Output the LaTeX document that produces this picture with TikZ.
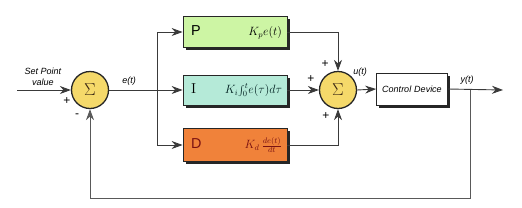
\documentclass[tikz,border=0pt]{standalone}
\usepackage{fontspec}
\setsansfont{Liberation Sans}
\usetikzlibrary{arrows.meta,shadows}

\definecolor{sumfill}{HTML}{F5D96A}
\definecolor{pfill}{HTML}{CDF5A4}
\definecolor{ifill}{HTML}{B5EAD8}
\definecolor{dfill}{HTML}{F0823A}
\definecolor{dtext}{HTML}{7A1212}
\definecolor{wire}{HTML}{3A3A3A}

\tikzset{
  sumnode/.style={circle, draw=black!85, line width=1.3pt, fill=sumfill,
    minimum size=37pt, inner sep=0pt, font=\LARGE, text=black!70!brown},
  termbox/.style={draw=black!85, line width=0.8pt, minimum width=104pt,
    text width=94pt, align=left, inner sep=0pt,
    drop shadow={shadow xshift=2.5pt, shadow yshift=-2.5pt, fill=black!85, opacity=1}},
  wirearrow/.style={-{Stealth[length=11pt,width=8pt]}},
  sign/.style={font=\sffamily\large},
  sigtext/.style={font=\sffamily\itshape\small}
}

\begin{document}
\begin{tikzpicture}[x=1pt, y=-1pt, line width=0.9pt, draw=wire]
  \useasboundingbox (0,0) rectangle (522,207);

  % 1. Summing junctions and blocks
  \node[sumnode] (sumA) at (90,90) {$\Sigma$};
  \node[sumnode] (sumB) at (338,90) {$\Sigma$};

  \node[termbox, fill=pfill, minimum height=31pt] (pbox) at (235,32)
    {\hspace*{3pt}\textsf{\Large P}\hfill{\large$K_pe(t)$}\hspace*{2pt}};
  \node[termbox, fill=ifill, minimum height=30pt] (ibox) at (235,90)
    {\hspace*{3pt}{\Large$\mathrm{I}$}\hfill{\large\color{black!75!teal}$K_i\!\int_0^t\! e(\tau)d\tau$}};
  \node[termbox, fill=dfill, minimum height=33pt] (dbox) at (235,145)
    {\hspace*{3pt}\textsf{\Large\color{dtext}D}\hfill{\large\color{dtext}$K_d\,\frac{de(t)}{dt}$}\hspace*{2pt}};

  \node[termbox, fill=white, minimum width=71pt, text width=69pt, align=center,
    minimum height=32pt, font=\sffamily\itshape\small] (plant) at (412,89) {Control Device};

  % 2. Free ends of the wires
  \coordinate (setp) at (17,90);
  \coordinate (split) at (157,90);
  \coordinate (ytap) at (470,90);
  \coordinate (yout) at (503,90);
  \coordinate (fback) at (470,198);

  % 3. Wires
  \draw[wirearrow] (setp) -- (sumA.west);
  \draw[wirearrow] (sumA.east) -- (ibox.west);
  \draw[wirearrow] (split) |- (pbox.west);
  \draw[wirearrow] (split) |- (dbox.west);
  \draw[wirearrow] (pbox.east) -| (sumB.north);
  \draw[wirearrow] (ibox.east) -- (sumB.west);
  \draw[wirearrow] (dbox.east) -| (sumB.south);
  \draw[wirearrow] (sumB.east) -- (plant.west);
  \draw[wirearrow] (plant.east) -- (yout);
  \draw[wirearrow, draw=black!65] (ytap) -- (fback) -| (sumA.south);

  % 4. Labels and signs
  \node[sigtext, align=center] (setlbl) at (43,77) {Set Point\\value};
  \node[sigtext] (elbl) at (129,81) {e(t)};
  \node[sigtext] (ulbl) at (360,72) {u(t)};
  \node[sigtext] (ylbl) at (467,80) {y(t)};
  \node[sign] (plusA) at (67,101) {+};
  \node[sign] (minusA) at (77,116) {-};
  \node[sign] (plusB1) at (325,64) {+};
  \node[sign] (plusB2) at (311,79) {+};
  \node[sign] (plusB3) at (326,116) {+};
\end{tikzpicture}
\end{document}
